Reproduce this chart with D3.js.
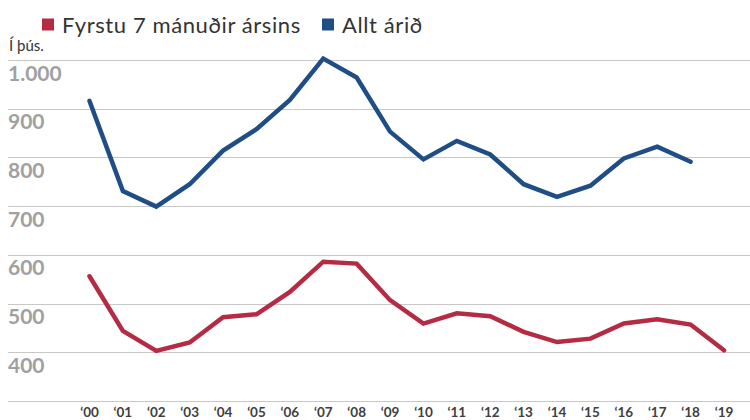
<!DOCTYPE html>
<html>
<head>
    <meta charset="utf-8">
    <title>Fyrstu 7 mánuðir ársins / Allt árið</title>
    <script type="text/javascript" src="https://cdn.jsdelivr.net/npm/d3@7"></script>
    <style type="text/css">
        html, body { margin: 0; background: #fff; }
        svg { display: block; font-family: Lato, "Open Sans", sans-serif; }
        .grid line { stroke: #c8c8c8; stroke-width: 1.2; }
        .ylab { fill: #a0a0a0; font-weight: 700; font-size: 21px; }
        .xlab { fill: #404040; font-weight: 700; font-size: 13.5px; }
        .legend text { fill: #333; font-size: 22px; letter-spacing: 0.6px; }
    </style>
</head>
<body>
<svg></svg>
<script type="text/javascript">
    var w = 750, h = 420;

    var years = ["‘00","‘01","‘02","‘03","‘04","‘05","‘06","‘07","‘08","‘09",
                 "‘10","‘11","‘12","‘13","‘14","‘15","‘16","‘17","‘18","‘19"];
    // first 7 months of the year (thousands)
    var firstSeven = [556, 444, 403, 420, 472, 478, 524, 586, 582, 507,
                      459, 480, 474, 442, 421, 428, 459, 468, 457, 404];
    // whole year, 2019 not yet available
    var wholeYear = [916, 731, 699, 745, 814, 858, 918, 1003, 964, 853,
                     796, 834, 806, 745, 719, 742, 798, 822, 791, null];
    var yTicks = [1000, 900, 800, 700, 600, 500, 400, 300];
    var yTickLabels = ["1.000", "900", "800", "700", "600", "500", "400", ""];

    var red = "#b52b43", blue = "#1f4e86";

    var svg = d3.select("svg").attr("width", w).attr("height", h);

    var x = d3.scalePoint().domain(years).range([89.5, 724]);
    var y = d3.scaleLinear().domain([300, 1000]).range([401, 60]);

    // grid
    svg.append("g").attr("class", "grid")
        .selectAll("line").data(yTicks).enter().append("line")
        .attr("x1", 8).attr("x2", w)
        .attr("y1", function(d){ return Math.round(y(d)) + 0.5; })
        .attr("y2", function(d){ return Math.round(y(d)) + 0.5; });

    svg.append("g").selectAll("text").data(yTicks).enter().append("text")
        .attr("class", "ylab")
        .attr("x", 8)
        .attr("y", function(d){ return y(d) + 20.5; })
        .text(function(d, i){ return yTickLabels[i]; });

    svg.append("g").selectAll("text").data(years).enter().append("text")
        .attr("class", "xlab")
        .attr("x", function(d){ return x(d); })
        .attr("y", 417)
        .attr("text-anchor", "middle")
        .text(function(d){ return d; });

    svg.append("text")
        .attr("x", 9).attr("y", 51)
        .style("font-size", "15px").style("fill", "#333")
        .text("Í þús.");

    var line = d3.line()
        .defined(function(d){ return d != null; })
        .x(function(d, i){ return x(years[i]); })
        .y(function(d){ return y(d); });

    [[wholeYear, blue], [firstSeven, red]].forEach(function(s){
        svg.append("path")
            .datum(s[0])
            .attr("fill", "none")
            .attr("stroke", s[1])
            .attr("stroke-width", 4.5)
            .attr("stroke-linejoin", "miter")
            .attr("stroke-linecap", "round")
            .attr("d", line);
    });

    // legend
    var legend = svg.append("g").attr("class", "legend");
    var items = [
        {label: "Fyrstu 7 mánuðir ársins", color: red, x: 42},
        {label: "Allt árið", color: blue, x: 322}
    ];
    items.forEach(function(it){
        legend.append("rect")
            .attr("x", it.x).attr("y", 18.5)
            .attr("width", 12).attr("height", 12)
            .attr("fill", it.color);
        legend.append("text")
            .attr("x", it.x + 20).attr("y", 33)
            .text(it.label);
    });
</script>
</body>
</html>
